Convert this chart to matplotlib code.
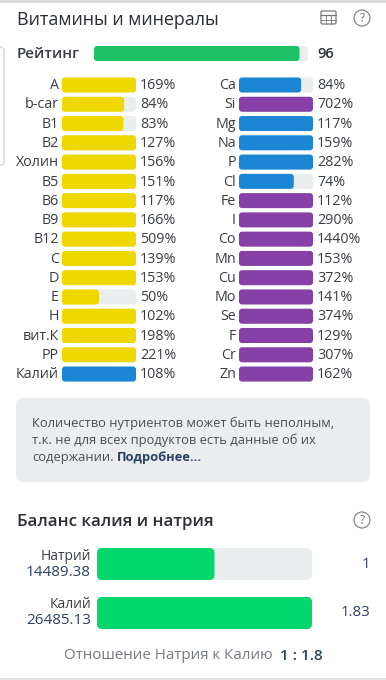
import matplotlib
matplotlib.use('Agg')
import matplotlib.pyplot as plt
from matplotlib.patches import FancyBboxPatch, Circle, Rectangle

plt.rcParams['font.family'] = ['Open Sans', 'DejaVu Sans']

YELLOW = '#efd800'
BLUE = '#1b86d3'
PURPLE = '#8740a8'
TRACK = '#ebeeef'
DARK = '#2b2f33'
NAVY = '#2c4168'

left_names = ['A', 'b-car', 'B1', 'B2', 'Холин', 'B5', 'B6', 'B9', 'B12', 'C', 'D', 'E', 'H', 'вит.К', 'PP', 'Калий']
left_vals = [169, 84, 83, 127, 156, 151, 117, 166, 509, 139, 153, 50, 102, 198, 221, 108]
left_cols = [YELLOW] * 15 + [BLUE]

right_names = ['Ca', 'Si', 'Mg', 'Na', 'P', 'Cl', 'Fe', 'I', 'Co', 'Mn', 'Cu', 'Mo', 'Se', 'F', 'Cr', 'Zn']
right_vals = [84, 702, 117, 159, 282, 74, 112, 290, 1440, 153, 372, 141, 374, 129, 307, 162]
right_cols = [BLUE, PURPLE, BLUE, BLUE, BLUE, BLUE, PURPLE, PURPLE, PURPLE, PURPLE,
              PURPLE, PURPLE, PURPLE, PURPLE, PURPLE, PURPLE]

rating = 96
balance_names = ['Натрий', 'Калий']
balance_amounts = ['14489.38', '26485.13']
balance_ratio = [1, 1.83]


def rbar(ax, x, y, w, h, color, r=3):
    ax.add_patch(FancyBboxPatch((x + r, y + r), w - 2 * r, h - 2 * r,
                                boxstyle='round,pad=%g,rounding_size=%g' % (r, r),
                                fc=color, ec='none'))


def help_icon(ax, x, y):
    ax.add_patch(Circle((x, y), 8, fc='none', ec='#85878a', lw=0.9))
    ax.text(x, y + 0.5, '?', fontsize=8.5, color='#707376', ha='center', va='center')


fig = plt.figure(figsize=(3.86, 6.8), dpi=100)
ax = fig.add_axes([0, 0, 1, 1])
ax.set_xlim(0, 386)
ax.set_ylim(680, 0)
ax.axis('off')

# header
ax.add_patch(Rectangle((0, 0), 386, 3, fc='#dcdcdc', ec='none'))
ax.text(17, 20, 'Витамины и минералы', fontsize=12.9, color=DARK, ha='left', va='center')

# table icon
ax.add_patch(FancyBboxPatch((321, 11), 15, 13, boxstyle='round,pad=0,rounding_size=1.5',
                            fc='none', ec='#77797c', lw=0.9))
ax.plot([321, 336], [15, 15], color='#77797c', lw=0.9)
ax.plot([321, 336], [19.5, 19.5], color='#77797c', lw=0.6)
ax.plot([326, 326], [15, 24], color='#77797c', lw=0.6)
ax.plot([331, 331], [15, 24], color='#77797c', lw=0.6)
help_icon(ax, 362, 18)

# rating
ax.text(17, 54, 'Рейтинг', fontsize=10.9, fontweight='semibold', color='#3a3e42', ha='left', va='center')
rbar(ax, 94, 46, 214, 15, TRACK)
rbar(ax, 94, 46, 214 * rating / 100, 15, '#1cc263')
ax.text(317, 54, str(rating), fontsize=10.6, fontweight='semibold', color=DARK, ha='left', va='center')

# side edge of the neighbouring card
ax.plot([0, 2, 4, 4, 2, 0], [47, 47, 50, 163, 165, 165], color='#c9cbcd', lw=0.8)

# nutrient rows
row0 = 85
step = 19.27
for names, vals, cols, x0 in [(left_names, left_vals, left_cols, 62),
                              (right_names, right_vals, right_cols, 239)]:
    for i in range(len(names)):
        y = row0 + i * step
        rbar(ax, x0, y - 7.5, 74, 15, TRACK)
        rbar(ax, x0, y - 7.5, 74 * min(vals[i], 100) / 100, 15, cols[i])
        ax.text(x0 - 3, y + 0.7, names[i], fontsize=10.3, color='#3a3e42', ha='right', va='center')
        ax.text(x0 + 78, y + 0.7, '%d%%' % vals[i], fontsize=10.3, color='#3a3e42', ha='left', va='center')

# note box
rbar(ax, 16, 398, 354, 84, TRACK, r=7)
ax.text(32, 423.5, 'Количество нутриентов может быть неполным,', fontsize=9.3, color='#4a4e52', va='center')
ax.text(32, 440.5, 'т.к. не для всех продуктов есть данные об их', fontsize=9.3, color='#4a4e52', va='center')
ax.text(32, 458, 'содержании.', fontsize=9.3, color='#4a4e52', va='center')
ax.text(117, 458, 'Подробнее...', fontsize=9.3, fontweight='bold', color=NAVY, va='center')

# balance block
ax.text(17, 521.5, 'Баланс калия и натрия', fontsize=12.2, fontweight='semibold', color=DARK, va='center')
help_icon(ax, 362, 520)

bar_y = [548, 597]
top = max(balance_ratio)
for i in range(2):
    rbar(ax, 97, bar_y[i], 215, 32, TRACK, r=5)
    rbar(ax, 97, bar_y[i], 215 * balance_ratio[i] / top, 32, '#04d76b', r=5)
    ax.text(91, bar_y[i] + 8, balance_names[i], fontsize=10, color='#3a3e42', ha='right', va='center')
    ax.text(91, bar_y[i] + 24, balance_amounts[i], fontsize=11, color=NAVY, ha='right', va='center')
    ax.text(370, bar_y[i] + 16, str(balance_ratio[i]), fontsize=10.8, color=NAVY, ha='right', va='center')

ax.text(64, 655.5, 'Отношение Натрия к Калию', fontsize=10.9, color='#767b80', va='center')
ax.text(280, 655.5, '1 : 1.8', fontsize=11, fontweight='semibold', color=NAVY, va='center')
ax.add_patch(Rectangle((0, 678), 386, 2, fc='#e2e2e2', ec='none'))

fig.savefig('out.png', dpi=100)
